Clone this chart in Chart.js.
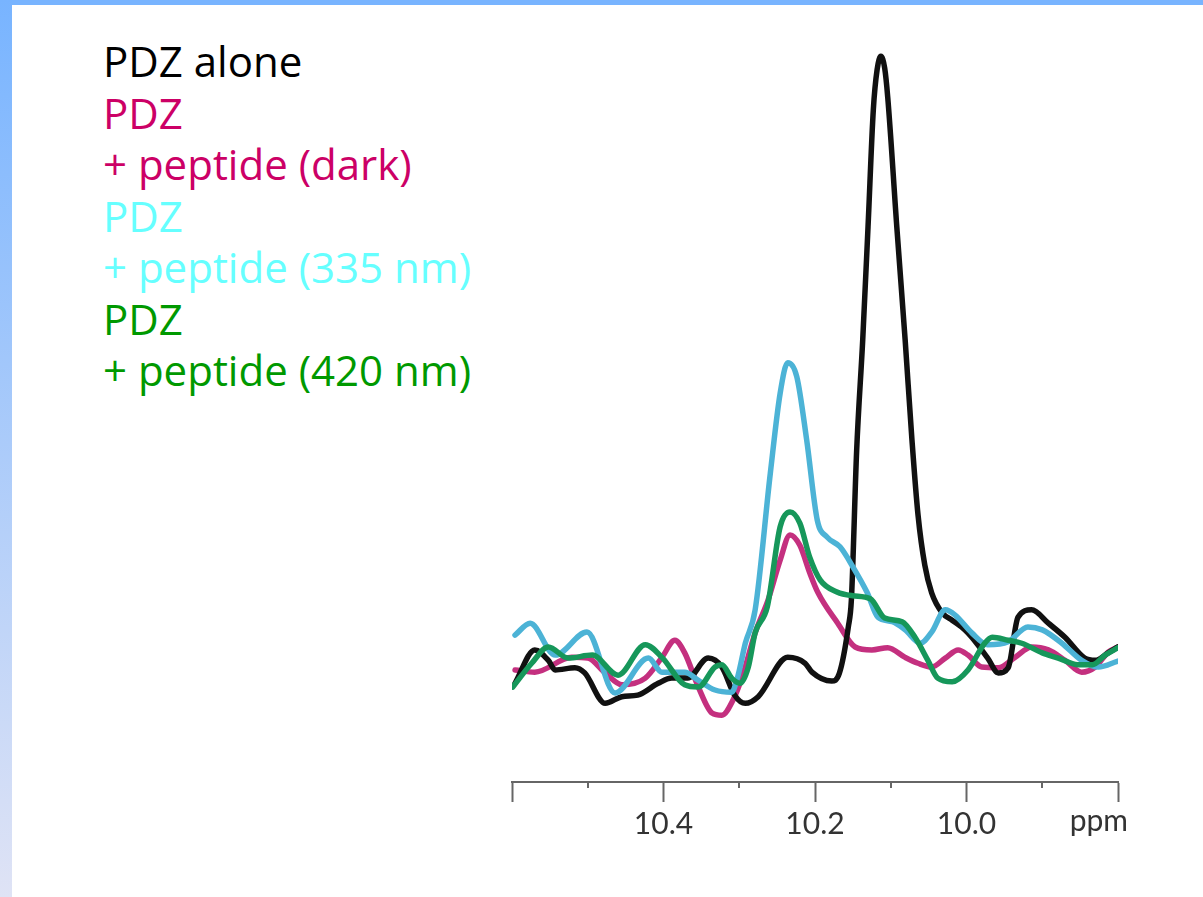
<!DOCTYPE html>
<html>
<head>
<meta charset="utf-8">
<title>PDZ peptide spectra</title>
<script src="https://cdn.jsdelivr.net/npm/chart.js@4.4.1/dist/chart.umd.min.js"></script>
<style>
  html, body { margin: 0; padding: 0; }
  body { width: 1203px; height: 897px; background: #fff; position: relative; overflow: hidden; }
  #topbar { position: absolute; left: 0; top: 0; width: 1203px; height: 5px; background: #78b4ff; }
  #sidebar { position: absolute; left: 0; top: 0; width: 12px; height: 897px; background: linear-gradient(#78b4ff, #dfe3f5); }
  #legend { position: absolute; left: 103px; top: 35px; font-family: "Open Sans", sans-serif; font-size: 42px; line-height: 51.5px; }
  #legend div { white-space: nowrap; }
  #plot { position: absolute; left: 480px; top: 0; }
</style>
</head>
<body>
<div id="topbar"></div>
<div id="sidebar"></div>
<div id="legend">
  <div style="color:#000000">PDZ alone</div>
  <div style="color:#cc0066">PDZ</div>
  <div style="color:#cc0066">+ peptide (dark)</div>
  <div style="color:#66ffff">PDZ</div>
  <div style="color:#66ffff">+ peptide (335 nm)</div>
  <div style="color:#009900">PDZ</div>
  <div style="color:#009900">+ peptide (420 nm)</div>
</div>
<canvas id="plot" width="690" height="897"></canvas>
<script>
// chemical shift (ppm) and intensity (arb. units) for each trace
const blackPpm = [10.596, 10.570, 10.552, 10.543, 10.517, 10.504, 10.477, 10.455, 10.434, 10.407, 10.389, 10.368, 10.341, 10.323, 10.306, 10.292, 10.275, 10.236, 10.213, 10.204, 10.178, 10.168, 10.156, 10.152, 10.145, 10.137, 10.130, 10.123, 10.118, 10.113, 10.108, 10.104, 10.092, 10.081, 10.072, 10.064, 10.055, 10.046, 10.032, 10.019, 10.002, 9.993, 9.972, 9.958, 9.945, 9.932, 9.914, 9.892, 9.870, 9.844, 9.830, 9.813, 9.800];
const blackInt = [13.3, 17.8, 16.4, 15.1, 15.4, 14.7, 10.6, 11.5, 11.7, 13.3, 14.0, 14.0, 16.7, 15.5, 11.7, 10.6, 11.5, 16.8, 16.0, 14.8, 13.6, 14.6, 20.9, 24.5, 44.7, 59.6, 74.8, 90.6, 96.0, 97.8, 96.2, 92.3, 74.8, 59.6, 46.1, 36.0, 29.2, 25.5, 22.8, 21.8, 20.5, 19.5, 16.7, 14.7, 15.4, 22.2, 23.2, 21.4, 19.5, 16.7, 16.4, 17.4, 18.2];

const darkPpm = [10.596, 10.570, 10.521, 10.500, 10.477, 10.455, 10.424, 10.402, 10.385, 10.372, 10.354, 10.336, 10.323, 10.308, 10.296, 10.279, 10.262, 10.246, 10.233, 10.220, 10.207, 10.196, 10.170, 10.147, 10.125, 10.104, 10.081, 10.064, 10.046, 10.028, 10.011, 9.998, 9.980, 9.958, 9.936, 9.914, 9.892, 9.870, 9.848, 9.830, 9.813, 9.800];
const darkInt = [15.1, 14.8, 16.8, 16.7, 14.7, 13.1, 14.0, 16.8, 19.1, 17.4, 12.8, 9.3, 9.0, 11.1, 14.2, 20.1, 24.5, 29.9, 33.3, 31.9, 28.2, 25.5, 21.4, 18.2, 17.8, 18.1, 16.8, 16.0, 15.5, 16.7, 17.8, 17.1, 15.5, 15.4, 16.8, 18.2, 17.8, 16.4, 14.8, 15.5, 17.5, 18.2];

const uv335Ppm = [10.596, 10.576, 10.543, 10.501, 10.464, 10.420, 10.402, 10.372, 10.354, 10.332, 10.310, 10.302, 10.292, 10.279, 10.259, 10.246, 10.236, 10.224, 10.211, 10.197, 10.184, 10.167, 10.150, 10.131, 10.117, 10.098, 10.081, 10.061, 10.046, 10.028, 10.015, 9.993, 9.972, 9.945, 9.919, 9.900, 9.874, 9.848, 9.826, 9.800];
const uv335Int = [19.8, 21.4, 17.1, 20.2, 12.0, 16.7, 14.8, 14.8, 13.7, 12.4, 12.1, 14.2, 18.7, 23.2, 41.6, 52.4, 56.5, 54.6, 46.1, 35.3, 33.0, 31.7, 29.0, 25.5, 22.2, 21.6, 20.5, 18.7, 20.2, 23.2, 22.5, 20.1, 18.5, 18.9, 20.9, 20.5, 18.7, 16.4, 15.5, 16.3];

const vis420Ppm = [10.599, 10.574, 10.552, 10.526, 10.494, 10.460, 10.424, 10.402, 10.372, 10.354, 10.332, 10.323, 10.310, 10.299, 10.288, 10.279, 10.263, 10.246, 10.233, 10.220, 10.207, 10.193, 10.171, 10.150, 10.127, 10.108, 10.085, 10.068, 10.051, 10.038, 10.019, 9.998, 9.976, 9.966, 9.945, 9.927, 9.900, 9.879, 9.853, 9.834, 9.817, 9.800];
const vis420Int = [12.8, 16.0, 18.2, 16.7, 17.1, 14.4, 18.5, 16.8, 13.1, 12.8, 15.5, 15.8, 14.0, 13.3, 15.5, 20.1, 23.6, 34.4, 36.4, 34.9, 30.3, 27.2, 25.6, 25.1, 24.7, 22.1, 21.6, 19.5, 16.4, 14.0, 13.5, 15.1, 18.7, 19.5, 19.1, 18.7, 17.4, 16.7, 15.8, 15.8, 17.1, 18.1];

const labeledTicks = [10.4, 10.2, 10.0];
const unitLabel = 'ppm';

function toPoints(xs, ys) {
  return xs.map((x, i) => ({ x: x, y: ys[i] }));
}

function trace(label, xs, ys, color, order) {
  return {
    label: label,
    data: toPoints(xs, ys),
    borderColor: color,
    borderWidth: 5.5,
    pointRadius: 0,
    fill: false,
    cubicInterpolationMode: 'monotone',
    borderJoinStyle: 'round',
    borderCapStyle: 'round',
    order: order
  };
}

const isMinor = v => Math.round(v * 10) % 2 !== 0;

// short ticks at the odd tenths and the unit label at the right end
const axisExtras = {
  id: 'axisExtras',
  afterDraw(chart) {
    const scale = chart.scales.x;
    const ctx = chart.ctx;
    ctx.save();
    ctx.strokeStyle = '#666';
    ctx.lineWidth = 2;
    scale.ticks.forEach(t => {
      if (isMinor(t.value)) {
        const px = Math.round(scale.getPixelForValue(t.value));
        ctx.beginPath();
        ctx.moveTo(px, scale.top);
        ctx.lineTo(px, scale.top + 6);
        ctx.stroke();
      }
    });
    ctx.fillStyle = '#333';
    ctx.font = '30px Lato';
    ctx.textAlign = 'right';
    ctx.textBaseline = 'top';
    ctx.fillText(unitLabel, scale.getPixelForValue(9.8) + 10, scale.top + 24);
    ctx.restore();
  }
};

new Chart(document.getElementById('plot'), {
  type: 'line',
  data: {
    datasets: [
      trace('PDZ + peptide (420 nm)', vis420Ppm, vis420Int, '#16975a', 1),
      trace('PDZ + peptide (335 nm)', uv335Ppm, uv335Int, '#4cb3d6', 2),
      trace('PDZ alone', blackPpm, blackInt, '#111111', 3),
      trace('PDZ + peptide (dark)', darkPpm, darkInt, '#c4307f', 4)
    ]
  },
  options: {
    responsive: false,
    animation: false,
    layout: { padding: { left: 32, right: 52, top: 40, bottom: 51 } },
    plugins: { legend: { display: false }, tooltip: { enabled: false } },
    scales: {
      x: {
        type: 'linear',
        reverse: true,
        min: 9.8,
        max: 10.6,
        border: { display: true, color: '#666', width: 2 },
        grid: {
          drawOnChartArea: false,
          drawTicks: true,
          tickLength: 20,
          tickWidth: 2,
          tickColor: ctx => isMinor(ctx.tick.value) ? 'rgba(0,0,0,0)' : '#666'
        },
        ticks: {
          stepSize: 0.1,
          autoSkip: false,
          maxRotation: 0,
          padding: 4,
          color: '#333',
          font: { family: 'Lato', size: 30 },
          callback: v => labeledTicks.some(l => Math.abs(l - v) < 1e-6) ? v.toFixed(1) : ''
        }
      },
      y: { display: false, min: 0, max: 100 }
    }
  },
  plugins: [axisExtras]
});
</script>
</body>
</html>
